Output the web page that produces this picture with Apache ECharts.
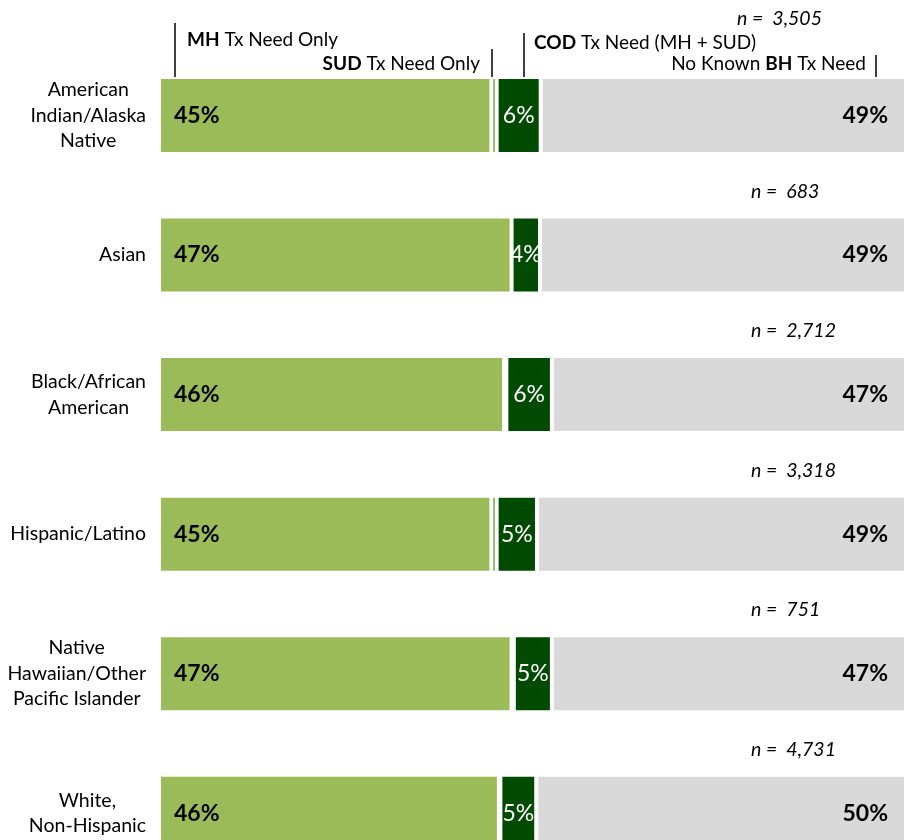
<!DOCTYPE html>
<html>
<head>
<meta charset="utf-8">
<title>BH treatment need by race/ethnicity</title>
<script src="https://cdn.jsdelivr.net/npm/echarts@6/dist/echarts.min.js"></script>
<style>
  html, body { margin: 0; padding: 0; background: #fff; overflow: hidden; }
  #chart { width: 906px; height: 883px; }
</style>
</head>
<body>
<div id="chart"></div>
<script>
// Data (percent of each group)
const groups = [
  'American\nIndian/Alaska\nNative',
  'Asian',
  'Black/African\nAmerican',
  'Hispanic/Latino',
  'Native\nHawaiian/Other\nPacific Islander',
  'White,\nNon-Hispanic'
]
const mhOnly = [44.5, 47.2, 46.2, 44.5, 47.2, 45.5]
const sudOnly = [0.7, 0, 0.3, 0.7, 0.3, 0.2]
const codNeed = [5.9, 3.8, 6.1, 5.4, 5.1, 4.8]
const noNeed = [48.9, 49.0, 47.4, 49.4, 47.4, 49.5]
const groupN = [3505, 683, 2712, 3318, 751, 4731]

const FONT = 'Lato, "Open Sans", sans-serif'

const chart = echarts.init(document.getElementById('chart'))

const pct = p => Math.round(p.value) + '%'

const baseSeries = {
  type: 'bar',
  stack: 'total',
  barWidth: 77,
  itemStyle: { borderColor: '#fff', borderWidth: 2 },
  emphasis: { disabled: true }
}

const option = {
  animation: false,
  grid: { left: 159, right: 0, top: 45.75, bottom: 0 },
  xAxis: {
    type: 'value',
    min: 0,
    max: 100,
    show: false
  },
  yAxis: {
    type: 'category',
    inverse: true,
    data: groups,
    axisLine: { show: false },
    axisTick: { show: false },
    axisLabel: {
      margin: 13,
      align: 'right',
      formatter: v => v.split('\n').map(l => '{c|' + l + '}').join('\n'),
      rich: {
        c: { align: 'center', fontSize: 19.5, lineHeight: 25.5, fontFamily: FONT, color: '#000' }
      }
    }
  },
  series: [
    {
      ...baseSeries,
      name: 'MH Tx Need Only',
      data: mhOnly,
      itemStyle: { ...baseSeries.itemStyle, color: '#9BBB59' },
      label: {
        show: true,
        position: 'insideLeft',
        distance: 15,
        formatter: pct,
        fontSize: 23,
        fontWeight: 'bold',
        fontFamily: FONT,
        color: '#000'
      }
    },
    {
      ...baseSeries,
      name: 'SUD Tx Need Only',
      data: sudOnly,
      itemStyle: { ...baseSeries.itemStyle, color: '#5F8A1E' }
    },
    {
      ...baseSeries,
      name: 'COD Tx Need (MH + SUD)',
      data: codNeed,
      itemStyle: { ...baseSeries.itemStyle, color: '#014A01' },
      label: {
        show: true,
        position: 'inside',
        formatter: pct,
        fontSize: 23,
        fontFamily: FONT,
        color: '#fff'
      }
    },
    {
      ...baseSeries,
      name: 'No Known BH Tx Need',
      data: noNeed,
      itemStyle: { ...baseSeries.itemStyle, color: '#D9D9D9' },
      label: {
        show: true,
        position: 'insideRight',
        distance: 18,
        formatter: pct,
        fontSize: 23,
        fontWeight: 'bold',
        fontFamily: FONT,
        color: '#000'
      }
    }
  ]
}

chart.setOption(option)

// Header key above the first bar, and n labels above each bar
const headStyle = {
  fontSize: 19,
  fontFamily: FONT,
  fill: '#000',
  verticalAlign: 'middle',
  rich: { b: { fontWeight: 'bold', fontSize: 19, fontFamily: FONT } }
}
const vline = (x, y1, y2) => ({
  type: 'line',
  shape: { x1: x, y1: y1, x2: x, y2: y2 },
  style: { stroke: '#000', lineWidth: 1.5 }
})
const headText = (x, y, text, align) => ({
  type: 'text',
  x: x,
  y: y,
  style: { ...headStyle, text: text, align: align }
})

const graphics = [
  vline(175, 23, 77),
  headText(187, 40, '{b|MH} Tx Need Only', 'left'),
  vline(492, 49, 77),
  headText(480, 64, '{b|SUD} Tx Need Only', 'right'),
  vline(524, 33, 77),
  headText(534, 43, '{b|COD} Tx Need (MH + SUD)', 'left'),
  vline(876, 55, 77),
  headText(866, 64, 'No Known {b|BH} Tx Need', 'right')
]

groupN.forEach((n, i) => {
  const cy = chart.convertToPixel({ yAxisIndex: 0 }, i)
  graphics.push({
    type: 'text',
    x: i === 0 ? 737 : 751,
    y: cy - (i === 0 ? 96.5 : 63.5),
    style: {
      text: 'n =  ' + n.toLocaleString('en-US'),
      fontSize: 19.5,
      fontStyle: 'italic',
      fontFamily: FONT,
      fill: '#000',
      align: 'left',
      verticalAlign: 'middle'
    }
  })
})

chart.setOption({ graphic: graphics })
</script>
</body>
</html>
